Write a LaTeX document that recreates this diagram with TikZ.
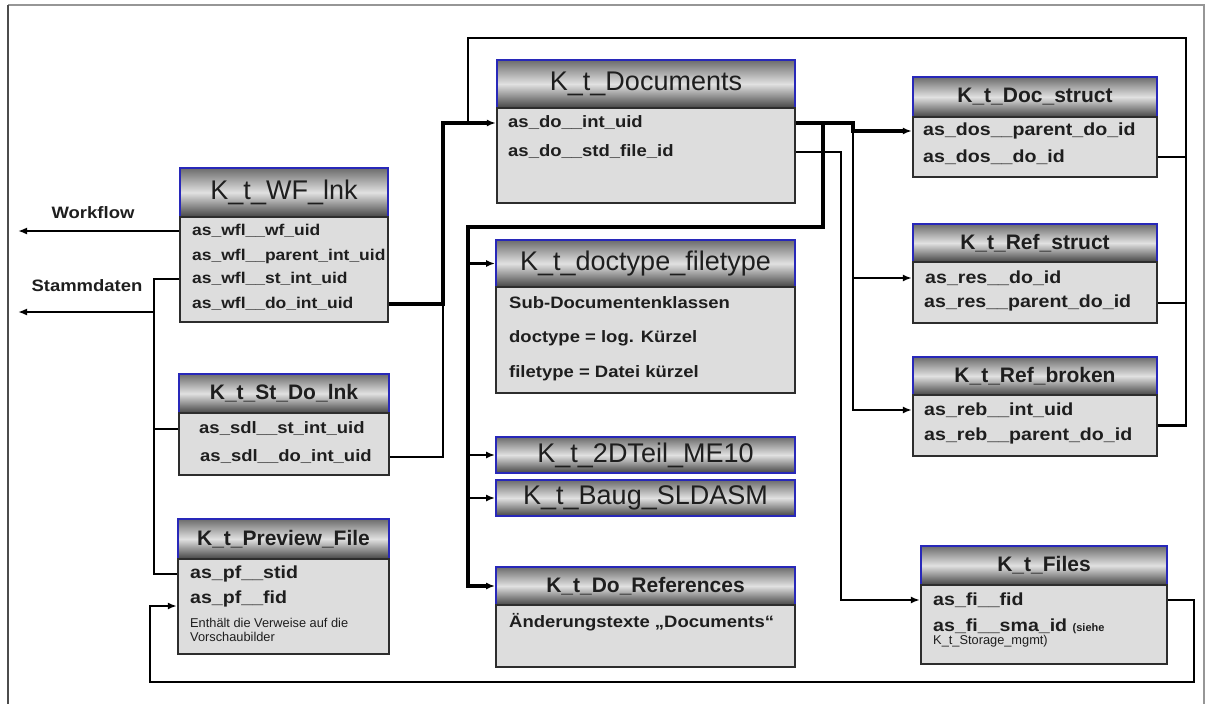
\documentclass[tikz,border=0pt]{standalone}
\usepackage{fontspec}
\setmainfont{Liberation Sans}
\newfontfamily\stf[FakeStretch=1.12]{Liberation Sans}
\usetikzlibrary{arrows.meta}
\definecolor{hblue}{RGB}{40,40,185}
\definecolor{htop}{RGB}{108,108,108}
\definecolor{hmid}{RGB}{225,225,225}
\definecolor{hbot}{RGB}{68,68,68}
\definecolor{bfill}{RGB}{221,221,221}
\definecolor{bline}{RGB}{45,45,45}
\definecolor{txt}{RGB}{30,30,30}
\definecolor{frm}{RGB}{150,150,150}
\newcommand\tbl[8]{%
  \pgfmathsetmacro\tcx{(#2+#3)/2}%
  \pgfmathsetmacro\tw{#3-#2}%
  \pgfmathsetmacro\thy{(#4+#5)/2}%
  \pgfmathsetmacro\thh{#5-#4}%
  \pgfmathsetmacro\tby{(#5+#6)/2}%
  \pgfmathsetmacro\tbh{#6-#5}%
  \node[head,#7,minimum width=\tw pt,minimum height=\thh pt] (#1h) at (\tcx,\thy) {#8};
  \node[body,minimum width=\tw pt,minimum height=\tbh pt] (#1b) at (\tcx,\tby) {};
}
\begin{document}
\begin{tikzpicture}[x=1pt,y=-1pt,
  head/.style={draw=hblue,line width=1.8pt,top color=htop,bottom color=hbot,middle color=hmid,
    text=txt,inner sep=0pt},
  body/.style={draw=bline,line width=2.3pt,fill=bfill,inner sep=0pt},
  bigt/.style={font=\fontsize{27}{30}\selectfont},
  boldt/.style={font=\bfseries\fontsize{21}{24}\selectfont},
  rowtxt/.style={anchor=west,inner sep=0pt,text=txt,font=\stf\bfseries\fontsize{16.5}{19}\selectfont},
  rowsm/.style={rowtxt,font=\stf\bfseries\fontsize{15.6}{19}\selectfont},
  rowbig/.style={rowtxt,font=\stf\bfseries\fontsize{17.5}{20}\selectfont},
  smalltxt/.style={anchor=west,inner sep=0pt,text=txt,align=left,font=\fontsize{12.8}{14.5}\selectfont},
  lbl/.style={inner sep=0pt,text=txt,font=\stf\bfseries\fontsize{16.5}{19}\selectfont},
  conn/.style={line width=2.9pt,black},
  thk/.style={line width=3.2pt,black},
  arr/.style={-{Latex[length=9pt,width=7pt]}},
]
\useasboundingbox (0,0) rectangle (1209,704);
% frame
\draw[frm,line width=1.5pt] (8,5) -- (1204,5) -- (1204,704);
\draw[black!70,line width=1.5pt] (8,5) -- (8,704);

% tables
\tbl{wf}{180}{388}{168}{217}{322}{bigt}{K\_t\_WF\_lnk}
\tbl{sd}{179}{389}{374}{413}{475}{boldt}{K\_t\_St\_Do\_lnk}
\tbl{pf}{178}{389}{519}{559}{654}{boldt}{K\_t\_Preview\_File}
\tbl{do}{497}{795}{60}{108}{203}{bigt}{K\_t\_Documents}
\tbl{dt}{496}{795}{240}{287}{393}{bigt}{K\_t\_doctype\_filetype}
\tbl{dr}{496}{795}{567}{605}{667}{boldt}{K\_t\_Do\_References}
\tbl{ds}{913}{1157}{77}{117}{177}{boldt}{K\_t\_Doc\_struct}
\tbl{rs}{913}{1157}{224}{262}{323}{boldt}{K\_t\_Ref\_struct}
\tbl{rb}{913}{1157}{357}{395}{456}{boldt}{K\_t\_Ref\_broken}
\tbl{fi}{921}{1167}{546}{585}{664}{boldt}{K\_t\_Files}
\node[head,bigt,minimum width=299pt,minimum height=36pt] (t2d) at (645.5,455) {K\_t\_2DTeil\_ME10};
\node[head,bigt,minimum width=299pt,minimum height=36pt] (bg) at (645.5,498) {K\_t\_Baug\_SLDASM};

% rows
\node[rowsm] (wf1) at (192,231) {as\_wfl\_\_wf\_uid};
\node[rowsm] (wf2) at (192,256) {as\_wfl\_\_parent\_int\_uid};
\node[rowsm] (wf3) at (192,279) {as\_wfl\_\_st\_int\_uid};
\node[rowsm] (wf4) at (192,304) {as\_wfl\_\_do\_int\_uid};
\node[rowtxt] (sd1) at (199,429) {as\_sdl\_\_st\_int\_uid};
\node[rowtxt] (sd2) at (200,457) {as\_sdl\_\_do\_int\_uid};
\node[rowbig] (pf1) at (190,574) {as\_pf\_\_stid};
\node[rowbig] (pf2) at (190,599) {as\_pf\_\_fid};
\node[smalltxt] (pfn) at (190,630) {Enthält die Verweise auf die\\Vorschaubilder};
\node[rowtxt] (do1) at (508,123) {as\_do\_\_int\_uid};
\node[rowtxt] (do2) at (508,152) {as\_do\_\_std\_file\_id};
\node[rowtxt] (dt1) at (509,303) {Sub-Documentenklassen};
\node[rowtxt] (dt2) at (509,338) {doctype = log. Kürzel};
\node[rowtxt] (dt3) at (509,373) {filetype = Datei kürzel};
\node[rowtxt] (dr1) at (509,622) {Änderungstexte „Documents“};
\node[rowbig] (ds1) at (923,131) {as\_dos\_\_parent\_do\_id};
\node[rowbig] (ds2) at (923,157) {as\_dos\_\_do\_id};
\node[rowbig] (rs1) at (925,278) {as\_res\_\_do\_id};
\node[rowbig] (rs2) at (924,303) {as\_res\_\_parent\_do\_id};
\node[rowbig] (rb1) at (924,410) {as\_reb\_\_int\_uid};
\node[rowbig] (rb2) at (924,436) {as\_reb\_\_parent\_do\_id};
\node[rowbig] (fi1) at (933,600) {as\_fi\_\_fid};
\node[rowbig] (fi2) at (933,626) {as\_fi\_\_sma\_id {\normalfont\bfseries\fontsize{11}{12}\selectfont (siehe}};
\node[smalltxt] (fi3) at (933,641) {K\_t\_Storage\_mgmt)};

% labels
\node[lbl] (lwf) at (93,213) {Workflow};
\node[lbl] (lst) at (87,286) {Stammdaten};

% helper coordinates
\coordinate (lx) at (18,0);
\coordinate (sv) at (154,0);
\coordinate (stY) at (0,312);
\coordinate (dv) at (443,0);
\coordinate (lv) at (468,0);
\coordinate (topY) at (0,38);
\coordinate (rv) at (1186,0);
\coordinate (av) at (853,0);
\coordinate (bv) at (823,0);
\coordinate (midY) at (0,227);
\coordinate (cv) at (841,0);
\coordinate (fv) at (1194,0);
\coordinate (botY) at (0,682);
\coordinate (pv) at (150,0);
\coordinate (pfIn) at (0,606);

% connectors
\draw[conn,arr] (wfb.west |- wf1) -- (lx |- wf1);
\draw[conn] (wfb.west |- wf3) -- (sv |- wf3) -- (sv |- pf1) -- (pfb.west |- pf1);
\draw[conn,arr] (sv |- stY) -- (lx |- stY);
\draw[conn] (sv |- sd1) -- (sdb.west |- sd1);

\draw[thk,arr] (wfb.east |- wf4) -- (dv |- wf4) -- (dv |- do1) -- (dob.west |- do1);
\draw[conn] (sdb.east |- sd2) -- (dv |- sd2) -- (dv |- wf4);

\draw[conn] (rbb.east) -- (rv |- rbb.east) -- (rv |- topY) -- (lv |- topY) -- (lv |- do1);
\draw[conn] (dsb.east |- ds2) -- (rv |- ds2);
\draw[conn] (rsb.east |- rs2) -- (rv |- rs2);

\draw[thk,arr] (dob.east |- do1) -- (av |- do1) -- (av |- ds1) -- (dsb.west |- ds1);
\draw[conn,arr] (av |- ds1) -- (av |- rb1) -- (rbb.west |- rb1);
\draw[conn,arr] (av |- rs1) -- (rsb.west |- rs1);

\draw[thk,arr] (bv |- do1) -- (bv |- midY) -- (lv |- midY) -- (lv |- drh) -- (drh.west);
\draw[conn,arr] (lv |- dth) -- (dth.west);
\draw[conn,arr] (lv |- t2d) -- (t2d.west);
\draw[conn,arr] (lv |- bg) -- (bg.west);

\draw[conn,arr] (dob.east |- do2) -- (cv |- do2) -- (cv |- fi1) -- (fib.west |- fi1);
\draw[conn,arr] (fib.east |- fi1) -- (fv |- fi1) -- (fv |- botY) -- (pv |- botY) -- (pv |- pfIn) -- (pfb.west |- pfIn);
\end{tikzpicture}
\end{document}
